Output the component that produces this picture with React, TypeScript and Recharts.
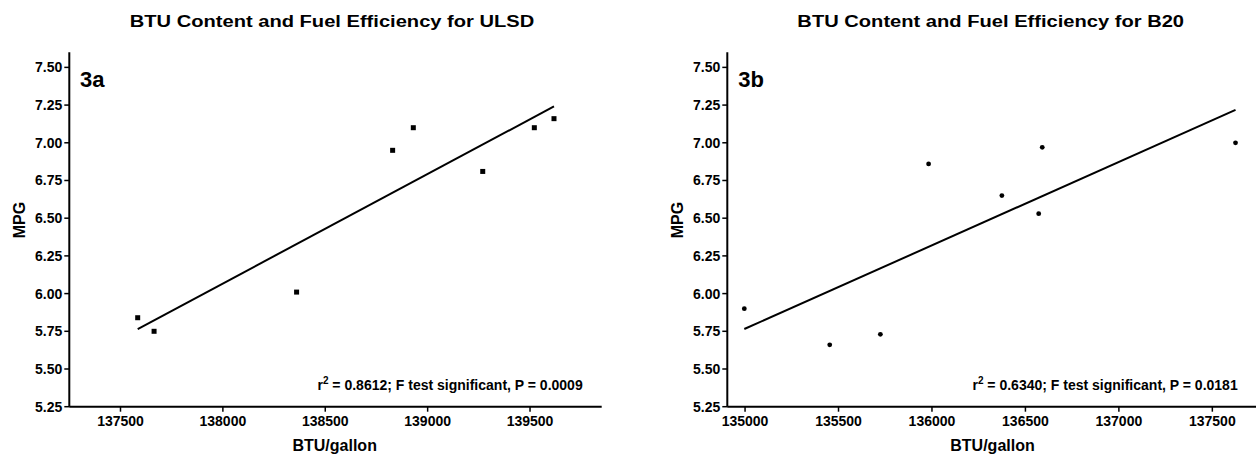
import React from "react";
import { ScatterChart, Scatter, XAxis, YAxis, ReferenceLine } from "recharts";

// ULSD: energy content (BTU/gallon) vs. fuel economy (MPG)
const ulsdBtu = [137584, 137664, 138360, 138829, 138930, 139269, 139521, 139617];
const ulsdMpg = [5.84, 5.75, 6.01, 6.95, 7.1, 6.81, 7.1, 7.16];
const ulsdFitBtu = [137584, 139617];
const ulsdFitMpg = [5.765, 7.241];

// B20: energy content (BTU/gallon) vs. fuel economy (MPG)
const b20Btu = [134996, 135453, 135724, 135982, 136374, 136571, 136590, 137624];
const b20Mpg = [5.9, 5.66, 5.73, 6.86, 6.65, 6.53, 6.97, 7.0];
const b20FitBtu = [134996, 137624];
const b20FitMpg = [5.765, 7.218];

const mpgTicks = [5.25, 5.5, 5.75, 6.0, 6.25, 6.5, 6.75, 7.0, 7.25, 7.5];
const ulsdBtuTicks = [137500, 138000, 138500, 139000, 139500];
const b20BtuTicks = [135000, 135500, 136000, 136500, 137000, 137500];

const FONT = "'Liberation Sans', Arial, Helvetica, sans-serif";

const toPoints = (xs: number[], ys: number[]) => xs.map((x, i) => ({ x, y: ys[i] }));

const tickStyle = { fill: "#000", fontSize: 14, fontWeight: "bold", fontFamily: FONT };
const axisLineStyle = { stroke: "#000", strokeWidth: 2 };

const SquareDot = (props: any) => {
  const { cx, cy } = props;
  if (cx == null || cy == null) return null;
  return <rect x={cx - 2.5} y={cy - 2.5} width={5} height={5} fill="#000" />;
};

const RoundDot = (props: any) => {
  const { cx, cy } = props;
  if (cx == null || cy == null) return null;
  return <circle cx={cx} cy={cy} r={2.4} fill="#000" />;
};

type PanelProps = {
  btu: number[];
  mpg: number[];
  fitBtu: number[];
  fitMpg: number[];
  xDomain: [number, number];
  xTicks: number[];
  shape: (p: any) => React.ReactElement | null;
  width: number;
  margin: { top: number; right: number; bottom: number; left: number };
};

function Panel({ btu, mpg, fitBtu, fitMpg, xDomain, xTicks, shape, width, margin }: PanelProps) {
  const pts = toPoints(btu, mpg);
  return (
    <ScatterChart width={width} height={456} margin={margin}>
      <XAxis
        type="number"
        dataKey="x"
        domain={xDomain}
        ticks={xTicks}
        allowDataOverflow
        height={30}
        tickSize={5}
        tickMargin={4}
        tick={tickStyle}
        axisLine={axisLineStyle}
        tickLine={{ stroke: "#000", strokeWidth: 1.5 }}
      />
      <XAxis
        xAxisId="top"
        orientation="top"
        type="number"
        domain={xDomain}
        allowDataOverflow
        height={0}
        tick={false}
        tickLine={false}
        axisLine={{ stroke: "#222", strokeWidth: 2 }}
      />
      <YAxis
        type="number"
        dataKey="y"
        domain={[5.25, 7.6]}
        ticks={mpgTicks}
        allowDataOverflow
        width={60}
        tickSize={5}
        tickMargin={2}
        tick={tickStyle}
        tickFormatter={(v: number) => v.toFixed(2)}
        axisLine={axisLineStyle}
        tickLine={{ stroke: "#000", strokeWidth: 1.5 }}
      />
      <YAxis
        yAxisId="right"
        orientation="right"
        type="number"
        domain={[5.25, 7.6]}
        width={0}
        tick={false}
        tickLine={false}
        axisLine={{ stroke: "#222", strokeWidth: 2 }}
      />
      <ReferenceLine
        segment={[
          { x: fitBtu[0], y: fitMpg[0] },
          { x: fitBtu[1], y: fitMpg[1] },
        ]}
        stroke="#000"
        strokeWidth={2}
        ifOverflow="visible"
      />
      <Scatter data={pts} shape={shape} isAnimationActive={false} />
    </ScatterChart>
  );
}

const textProps = { fontFamily: FONT, fontWeight: "bold", fill: "#000" } as const;

// Chart titles are set in a wide (horizontally stretched) bold face
const Title = ({ cx, y, children }: { cx: number; y: number; children: React.ReactNode }) => (
  <text
    transform={`translate(${cx},${y}) scale(1.22,1)`}
    textAnchor="middle"
    fontSize={16.5}
    {...textProps}
  >
    {children}
  </text>
);

export default function App() {
  return (
    <div
      style={{
        position: "absolute",
        left: 0,
        top: 0,
        width: 1256,
        height: 456,
        overflow: "hidden",
        background: "#fff",
      }}
    >
      <div style={{ position: "absolute", left: 0, top: 0 }}>
        <Panel
          btu={ulsdBtu}
          mpg={ulsdMpg}
          fitBtu={ulsdFitBtu}
          fitMpg={ulsdFitMpg}
          xDomain={[137250, 139850]}
          xTicks={ulsdBtuTicks}
          shape={SquareDot}
          width={628}
          margin={{ top: 52.3, right: 26.3, bottom: 19.3, left: 9.3 }}
        />
      </div>
      <div style={{ position: "absolute", left: 628, top: 0 }}>
        <Panel
          btu={b20Btu}
          mpg={b20Mpg}
          fitBtu={b20FitBtu}
          fitMpg={b20FitMpg}
          xDomain={[134905, 137755]}
          xTicks={b20BtuTicks}
          shape={RoundDot}
          width={640}
          margin={{ top: 52.3, right: 8, bottom: 19.3, left: 39.3 }}
        />
      </div>
      <svg
        width={1256}
        height={456}
        style={{ position: "absolute", left: 0, top: 0, pointerEvents: "none" }}
      >
        <Title cx={332} y={27}>BTU Content and Fuel Efficiency for ULSD</Title>
        <Title cx={990.7} y={27}>BTU Content and Fuel Efficiency for B20</Title>

        <text x={80} y={86.7} fontSize={22} {...textProps}>3a</text>
        <text x={738.3} y={86.7} fontSize={22} {...textProps}>3b</text>

        <text x={582.7} y={390} textAnchor="end" fontSize={14} {...textProps}>
          r<tspan dy={-6} fontSize={10}>2</tspan>
          <tspan dy={6}> = 0.8612; F test significant, P = 0.0009</tspan>
        </text>
        <text x={1237.7} y={389.5} textAnchor="end" fontSize={14} {...textProps}>
          r<tspan dy={-6} fontSize={10}>2</tspan>
          <tspan dy={6}> = 0.6340; F test significant, P = 0.0181</tspan>
        </text>

        <text x={334.7} y={451} textAnchor="middle" fontSize={16} {...textProps}>
          BTU/gallon
        </text>
        <text x={992.5} y={451} textAnchor="middle" fontSize={16} {...textProps}>
          BTU/gallon
        </text>

        <text
          transform="translate(25,220) rotate(-90)"
          textAnchor="middle"
          fontSize={16}
          {...textProps}
        >
          MPG
        </text>
        <text
          transform="translate(682.7,220) rotate(-90)"
          textAnchor="middle"
          fontSize={16}
          {...textProps}
        >
          MPG
        </text>
      </svg>
    </div>
  );
}
